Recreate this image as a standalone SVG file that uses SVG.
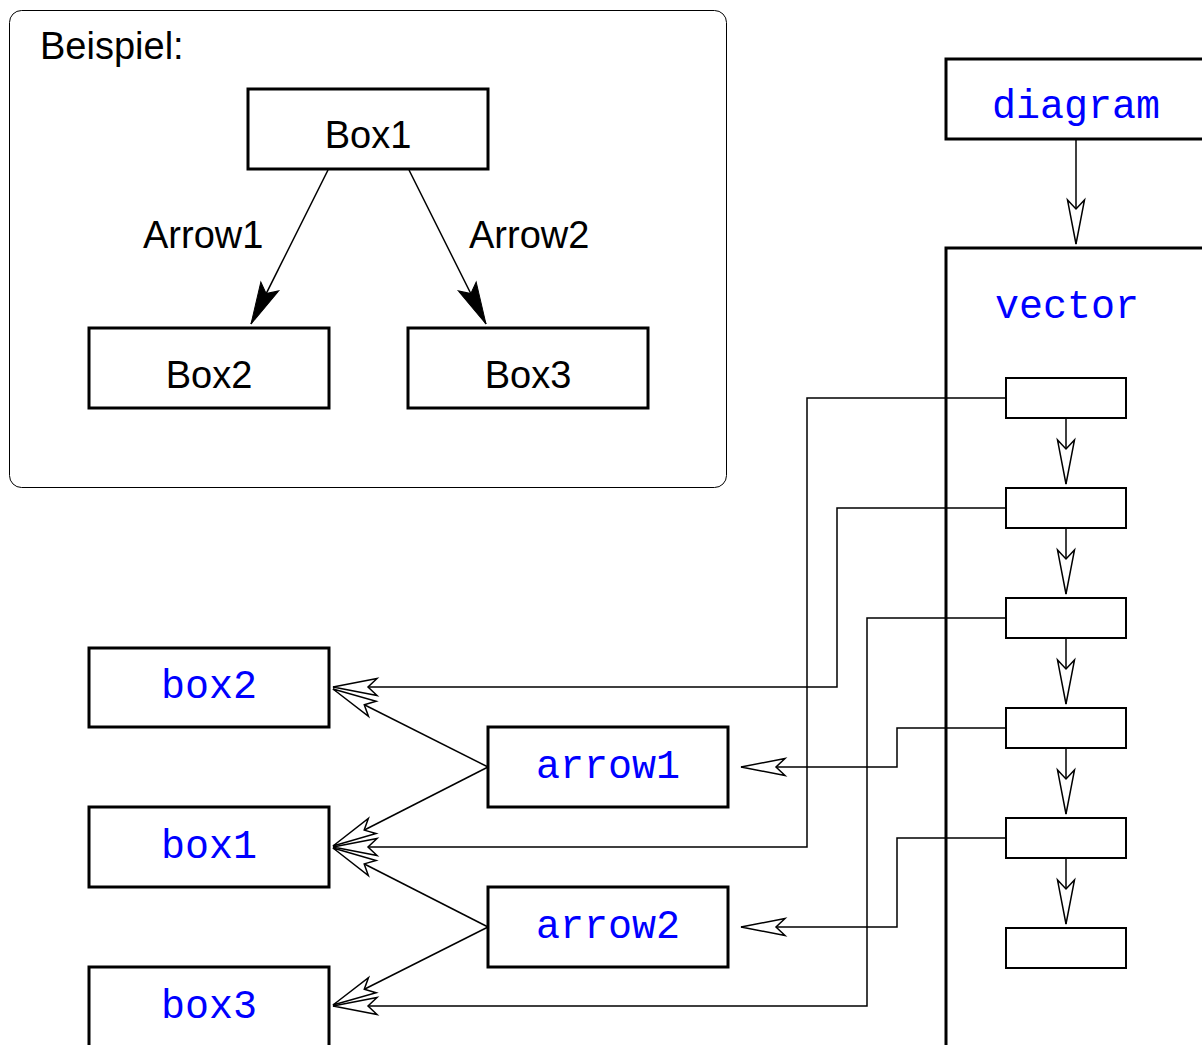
<svg xmlns="http://www.w3.org/2000/svg" width="1202" height="1045" viewBox="0 0 1202 1045">
  <style>
    .box { fill: #fff; stroke: #000; stroke-width: 3; }
    .cell { fill: #fff; stroke: #000; stroke-width: 2; }
    .panel { fill: #fff; stroke: #000; stroke-width: 1; }
    .sans { font-family: "Liberation Sans", Arial, sans-serif; font-size: 38px; fill: #000; }
    .mono { font-family: "Liberation Mono", "Courier New", monospace; font-size: 40px; fill: #0000ff; }
    .link { fill: none; stroke: #000; stroke-width: 1.5; }
    .solid { fill: none; stroke: #000; stroke-width: 1.5; }
  </style>
  <defs>
    <marker id="open" markerUnits="userSpaceOnUse" markerWidth="60" markerHeight="24" viewBox="-48 -12 52 24" refX="0" refY="0" orient="auto" overflow="visible">
      <path d="M0,0 L-44,-8.5 L-35,0 L-44,8.5 Z" fill="#fff" stroke="#000" stroke-width="1.5" stroke-linejoin="miter"/>
    </marker>
    <marker id="filled" markerUnits="userSpaceOnUse" markerWidth="60" markerHeight="24" viewBox="-48 -12 52 24" refX="0" refY="0" orient="auto" overflow="visible">
      <path d="M0,0 L-42,-10 L-34,0 L-42,10 Z" fill="#000" stroke="#000" stroke-width="1"/>
    </marker>
  </defs>

  <!-- example panel -->
  <g id="example">
    <rect class="panel" x="9.5" y="10.5" width="717" height="477" rx="12"/>
    <text class="sans" x="40" y="59">Beispiel:</text>
  </g>
  <g id="Box1">
    <rect class="box" x="248" y="89" width="240" height="80"/>
    <text class="sans" x="368" y="148" text-anchor="middle">Box1</text>
  </g>
  <g id="Box2">
    <rect class="box" x="89" y="328" width="240" height="80"/>
    <text class="sans" x="209" y="388" text-anchor="middle">Box2</text>
  </g>
  <g id="Box3">
    <rect class="box" x="408" y="328" width="240" height="80"/>
    <text class="sans" x="528" y="388" text-anchor="middle">Box3</text>
  </g>

  <!-- object nodes -->
  <g id="diagram">
    <rect class="box" x="946" y="59" width="300" height="80"/>
    <text class="mono" x="992" y="118">diagram</text>
  </g>
  <g id="vector">
    <rect class="box" x="946" y="248" width="300" height="850"/>
    <text class="mono" x="995" y="318">vector</text>
  </g>
  <g id="cell1"><rect class="cell" x="1006" y="378" width="120" height="40"/></g>
  <g id="cell2"><rect class="cell" x="1006" y="488" width="120" height="40"/></g>
  <g id="cell3"><rect class="cell" x="1006" y="598" width="120" height="40"/></g>
  <g id="cell4"><rect class="cell" x="1006" y="708" width="120" height="40"/></g>
  <g id="cell5"><rect class="cell" x="1006" y="818" width="120" height="40"/></g>
  <g id="cell6"><rect class="cell" x="1006" y="928" width="120" height="40"/></g>

  <g id="box2">
    <rect class="box" x="89" y="648" width="240" height="79"/>
    <text class="mono" x="209" y="698" text-anchor="middle">box2</text>
  </g>
  <g id="box1">
    <rect class="box" x="89" y="807" width="240" height="80"/>
    <text class="mono" x="209" y="858" text-anchor="middle">box1</text>
  </g>
  <g id="box3">
    <rect class="box" x="89" y="967" width="240" height="120"/>
    <text class="mono" x="209" y="1018" text-anchor="middle">box3</text>
  </g>
  <g id="arrow1">
    <rect class="box" x="488" y="727" width="240" height="80"/>
    <text class="mono" x="608" y="778" text-anchor="middle">arrow1</text>
  </g>
  <g id="arrow2">
    <rect class="box" x="488" y="887" width="240" height="80"/>
    <text class="mono" x="608" y="938" text-anchor="middle">arrow2</text>
  </g>

  <!-- connectors -->
  <g id="connectors">
    <line class="solid" x1="328" y1="170" x2="251" y2="324" marker-end="url(#filled)"/>
    <line class="solid" x1="409" y1="170" x2="486" y2="324" marker-end="url(#filled)"/>
    <text class="sans" x="143" y="248">Arrow1</text>
    <text class="sans" x="469" y="248">Arrow2</text>

    <line class="link" x1="1076" y1="140" x2="1076" y2="244" marker-end="url(#open)"/>
    <line class="link" x1="1066" y1="419" x2="1066" y2="484" marker-end="url(#open)"/>
    <line class="link" x1="1066" y1="529" x2="1066" y2="594" marker-end="url(#open)"/>
    <line class="link" x1="1066" y1="639" x2="1066" y2="704" marker-end="url(#open)"/>
    <line class="link" x1="1066" y1="749" x2="1066" y2="814" marker-end="url(#open)"/>
    <line class="link" x1="1066" y1="859" x2="1066" y2="924" marker-end="url(#open)"/>

    <polyline class="link" points="1005,398 807,398 807,847 333,847" marker-end="url(#open)"/>
    <polyline class="link" points="1005,508 837,508 837,687 333,687" marker-end="url(#open)"/>
    <polyline class="link" points="1005,618 867,618 867,1006 333,1006" marker-end="url(#open)"/>
    <polyline class="link" points="1005,728 897,728 897,767 741,767" marker-end="url(#open)"/>
    <polyline class="link" points="1005,838 897,838 897,927 741,927" marker-end="url(#open)"/>

    <line class="link" x1="488" y1="767" x2="333" y2="689" marker-end="url(#open)"/>
    <line class="link" x1="488" y1="767" x2="333" y2="846" marker-end="url(#open)"/>
    <line class="link" x1="488" y1="927" x2="333" y2="848" marker-end="url(#open)"/>
    <line class="link" x1="488" y1="927" x2="333" y2="1005" marker-end="url(#open)"/>
  </g>
</svg>
